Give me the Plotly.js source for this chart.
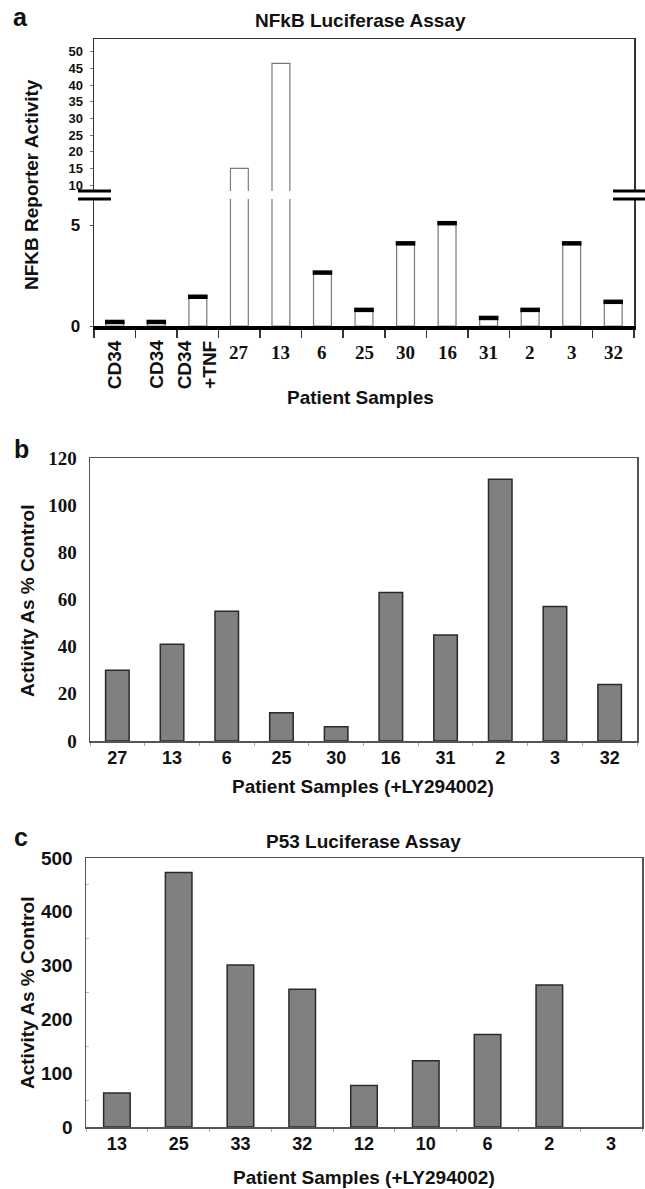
<!DOCTYPE html>
<html>
<head>
<meta charset="utf-8">
<script src="https://cdn.plot.ly/plotly-3.0.1.min.js"></script>
<style>html,body{margin:0;padding:0;background:#fff}#chart{width:645px;height:1189px}</style>
</head>
<body>
<div id="chart"></div>
<script>
// ---------- data ----------
const panelA_labels = ['CD34', 'CD34', 'CD34<br>+TNF', '27', '13', '6', '25', '30', '16', '31', '2', '3', '32'];
const panelA_values = [0.2, 0.2, 1.45, 15, 46.5, 2.65, 0.8, 4.1, 5.1, 0.4, 0.8, 4.1, 1.2];
const panelA_lowerTicks = [0, 5];
const panelA_upperTicks = [10, 15, 20, 25, 30, 35, 40, 45, 50];

const panelB_samples = ['27', '13', '6', '25', '30', '16', '31', '2', '3', '32'];
const panelB_values = [30, 41, 55, 12, 6, 63, 45, 111, 57, 24];

const panelC_samples = ['13', '25', '33', '32', '12', '10', '6', '2', '3'];
const panelC_values = [63, 473, 301, 256, 77, 123, 172, 264, null];

// ---------- helpers ----------
const W = 645, H = 1189;
const X = v => v / W;
const Y = v => 1 - v / H;
const SANS = 'Liberation Sans, Arial, Helvetica, sans-serif';
const SERIF = 'Liberation Serif, Times New Roman, serif';
const bold = (size, fam) => ({family: fam || SANS, size: size, weight: 700, color: '#111'});

// unique category keys for panel a (labels repeat)
const panelA_keys = panelA_labels.map((l, i) => 'k' + i);

// ---------- traces ----------
const traces = [];
// panel a lower + upper sections
['y', 'y2'].forEach(ya => traces.push({
  type: 'bar', x: panelA_keys, y: panelA_values, xaxis: 'x', yaxis: ya,
  marker: {color: '#ffffff', line: {color: '#7a7a7a', width: 1.2}},
  hoverinfo: 'skip', showlegend: false
}));
// black caps on bars in lower section
traces.push({
  type: 'scatter', mode: 'markers', x: panelA_keys, y: panelA_values, xaxis: 'x', yaxis: 'y',
  marker: {symbol: 'line-ew', size: 14, line: {color: '#000', width: 4.5}},
  cliponaxis: true, hoverinfo: 'skip', showlegend: false
});
// empty trace to create top frame axis for upper section
traces.push({type: 'scatter', x: [], y: [], xaxis: 'x2', yaxis: 'y2', showlegend: false, hoverinfo: 'skip'});

// panel b
traces.push({
  type: 'bar', x: panelB_samples, y: panelB_values, xaxis: 'x3', yaxis: 'y3',
  marker: {color: '#808080', line: {color: '#2a2a2a', width: 1.5}},
  hoverinfo: 'skip', showlegend: false
});
// panel c
traces.push({
  type: 'bar', x: panelC_samples, y: panelC_values, xaxis: 'x4', yaxis: 'y4',
  marker: {color: '#808080', line: {color: '#2a2a2a', width: 1.5}},
  hoverinfo: 'skip', showlegend: false
});

// ---------- annotations ----------
const ann = [];
function txt(text, x, y, font, extra) {
  ann.push(Object.assign({text: text, x: X(x), y: Y(y), xref: 'paper', yref: 'paper',
    showarrow: false, font: font, xanchor: 'center', yanchor: 'middle'}, extra || {}));
}
// panel a
txt('a', 20, 17, bold(25));
txt('NFkB Luciferase Assay', 361, 20, bold(19));
txt('NFKB Reporter Activity', 32, 185, bold(19), {textangle: -90});
txt('Patient Samples', 360, 397, bold(19));
panelA_labels.forEach((l, i) => {
  if (l.indexOf('CD34') === 0) {
    ann.push({text: l, x: panelA_keys[i], xref: 'x', y: Y(338), yref: 'paper', yanchor: 'top',
      xanchor: 'center', textangle: -90, showarrow: false, align: 'right', font: bold(19)});
  } else {
    ann.push({text: l, x: panelA_keys[i], xref: 'x', y: Y(353), yref: 'paper', yanchor: 'middle',
      xanchor: 'center', showarrow: false, font: bold(19, SERIF)});
  }
});
// break marks
const shapes = [];
[[78, 111], [613, 645]].forEach(([x0, x1]) => {
  [191, 199].forEach(yy => shapes.push({type: 'line', xref: 'paper', yref: 'paper',
    x0: X(x0), x1: X(x1), y0: Y(yy), y1: Y(yy), line: {color: '#000', width: 3}}));
});
// panel b
txt('b', 21, 449, bold(25));
txt('Activity As % Control', 27, 601, bold(19), {textangle: -90});
txt('Patient Samples (+LY294002)', 363, 786, bold(19));
// panel c
txt('c', 21, 837, bold(25));
txt('P53 Luciferase Assay', 363, 842, bold(19));
txt('Activity As % Control', 27, 993, bold(19), {textangle: -90});
txt('Patient Samples (+LY294002)', 364, 1177, bold(19));

// ---------- layout ----------
const noGrid = {showgrid: false, zeroline: false, fixedrange: true};
const layout = {
  width: W, height: H, margin: {l: 0, r: 0, t: 0, b: 0},
  paper_bgcolor: '#fff', plot_bgcolor: 'rgba(0,0,0,0)',
  bargap: 0.57, showlegend: false, hovermode: false,
  font: {family: SANS, color: '#111'},
  xaxis: Object.assign({}, noGrid, {
    domain: [X(94), X(634)], anchor: 'y', type: 'category',
    categoryorder: 'array', categoryarray: panelA_keys, range: [-0.5, panelA_keys.length - 0.5],
    showline: true, linecolor: '#000', linewidth: 3.5,
    ticks: 'outside', tickson: 'boundaries', ticklen: 8, tickwidth: 1.5, tickcolor: '#333',
    showticklabels: false
  }),
  xaxis2: Object.assign({}, noGrid, {
    domain: [X(94), X(634)], anchor: 'y2', side: 'top', range: [0, 1],
    showline: true, linecolor: '#333', linewidth: 1.5, ticks: '', showticklabels: false
  }),
  yaxis: Object.assign({}, noGrid, {
    domain: [Y(326), Y(199)], anchor: 'x', range: [0, 6.3], tickvals: panelA_lowerTicks,
    showline: true, linecolor: '#333', linewidth: 1.5, mirror: true,
    ticks: 'outside', ticklen: 3, tickcolor: '#555', ticklabelstandoff: 6,
    tickfont: bold(17)
  }),
  yaxis2: Object.assign({}, noGrid, {
    domain: [Y(191), Y(39)], anchor: 'x', range: [8.2, 53.8], tickvals: panelA_upperTicks,
    showline: true, linecolor: '#333', linewidth: 1.5, mirror: true,
    ticks: 'outside', ticklen: 3, tickcolor: '#777', ticklabelstandoff: 4,
    tickfont: bold(13)
  }),
  xaxis3: Object.assign({}, noGrid, {
    domain: [X(90), X(637)], anchor: 'y3', type: 'category',
    showline: true, linecolor: '#555', linewidth: 1.5, mirror: true,
    ticks: 'outside', tickson: 'boundaries', ticklen: 3, tickcolor: '#aaa',
    tickfont: bold(18)
  }),
  yaxis3: Object.assign({}, noGrid, {
    domain: [Y(741), Y(458)], anchor: 'x3', range: [0, 120], dtick: 20,
    showline: true, linecolor: '#555', linewidth: 1.5, mirror: true,
    ticks: '', ticklabelstandoff: 8, tickfont: bold(19, SERIF)
  }),
  xaxis4: Object.assign({}, noGrid, {
    domain: [X(86), X(642)], anchor: 'y4', type: 'category',
    showline: true, linecolor: '#555', linewidth: 1.5, mirror: true,
    ticks: 'outside', tickson: 'boundaries', ticklen: 3, tickcolor: '#aaa',
    tickfont: bold(18)
  }),
  yaxis4: Object.assign({}, noGrid, {
    domain: [Y(1127), Y(858)], anchor: 'x4', range: [0, 500], dtick: 100,
    showline: true, linecolor: '#555', linewidth: 1.5, mirror: true,
    ticks: '', ticklabelstandoff: 8, tickfont: bold(19),
    minor: {ticks: 'inside', ticklen: 3, tickcolor: '#bbb', dtick: 50}
  }),
  annotations: ann,
  shapes: shapes
};

Plotly.newPlot('chart', traces, layout, {staticPlot: true, displayModeBar: false});
</script>
</body>
</html>
